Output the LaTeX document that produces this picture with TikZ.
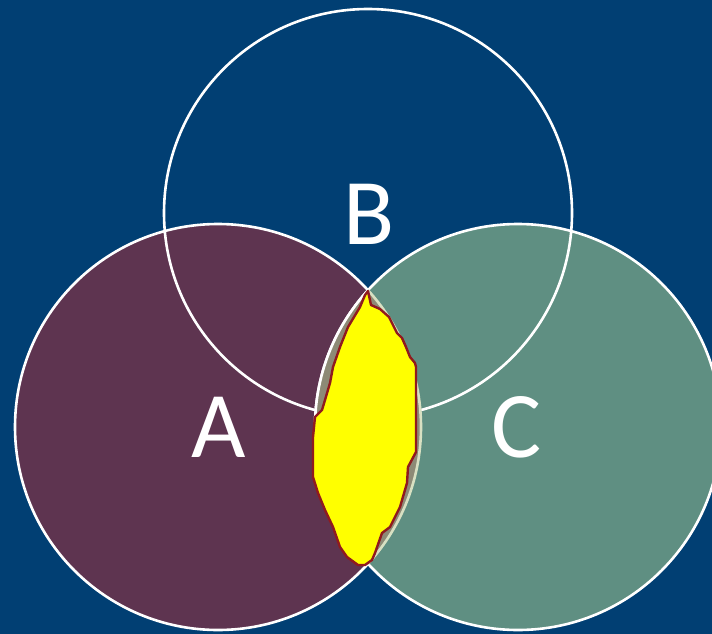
\documentclass[tikz,border=0pt]{standalone}
\usepackage{fontspec}
\setmainfont{Carlito}
\definecolor{bg}{HTML}{013F73}
\definecolor{setA}{HTML}{5E3450}
\definecolor{setC}{HTML}{5F8F82}
\definecolor{lens}{HTML}{8D8A76}
\definecolor{palearc}{HTML}{D8E0C2}
\definecolor{blobline}{HTML}{901A1E}
\definecolor{blobfill}{RGB}{255,255,0}
\begin{document}
\begin{tikzpicture}[x=1pt,y=-1pt,
  ring/.style={draw=white,line width=2.6pt},
  setlabel/.style={text=white,font=\fontsize{94}{94}\selectfont,inner sep=0pt}]
\path[use as bounding box,fill=bg] (0,0) rectangle (712,634);
\coordinate (cA) at (218,427);
\coordinate (cB) at (368,213);
\coordinate (cC) at (518,427);
% circles
\fill[setA] (cA) circle (203);
\draw[ring] (cA) circle (203);
\fill[setC] (cC) circle (203);
\draw[ring] (cC) circle (203);
\draw[ring] (cB) circle (204);
% lens A and C
\begin{scope}
  \clip (cA) circle (203);
  \fill[lens] (cC) circle (203);
  \draw[ring] (cC) circle (203);
\end{scope}
\begin{scope}
  \clip (cC) circle (203);
  \draw[palearc,line width=2.6pt] (cA) circle (203);
\end{scope}
% blob
\draw[blobline,fill=blobfill,line width=2.4pt,line join=round]
  (368,291) -- (371,305) -- (380,309) -- (389,317) -- (393,325) -- (397,333)
  -- (402,338) -- (406,347) -- (410,357) -- (415,363) -- (416,367) -- (416,420)
  -- (416,452) -- (408,467) -- (407,483) -- (400,507) -- (390,527) -- (382,533)
  -- (375,553) -- (372,560) -- (365,565) -- (358,565) -- (347,557) -- (340,547)
  -- (333,527) -- (325,510) -- (318,493) -- (313,477) -- (313,437) -- (315,417)
  -- (322,410) -- (325,400) -- (330,383) -- (333,367) -- (340,347) -- (348,327)
  -- (360,307) -- (365,295) -- cycle;
% labels
\node[setlabel] (lblA) at (219,427) {A};
\node[setlabel] (lblB) at (369,214) {B};
\node[setlabel] (lblC) at (517,427) {C};
\end{tikzpicture}
\end{document}
